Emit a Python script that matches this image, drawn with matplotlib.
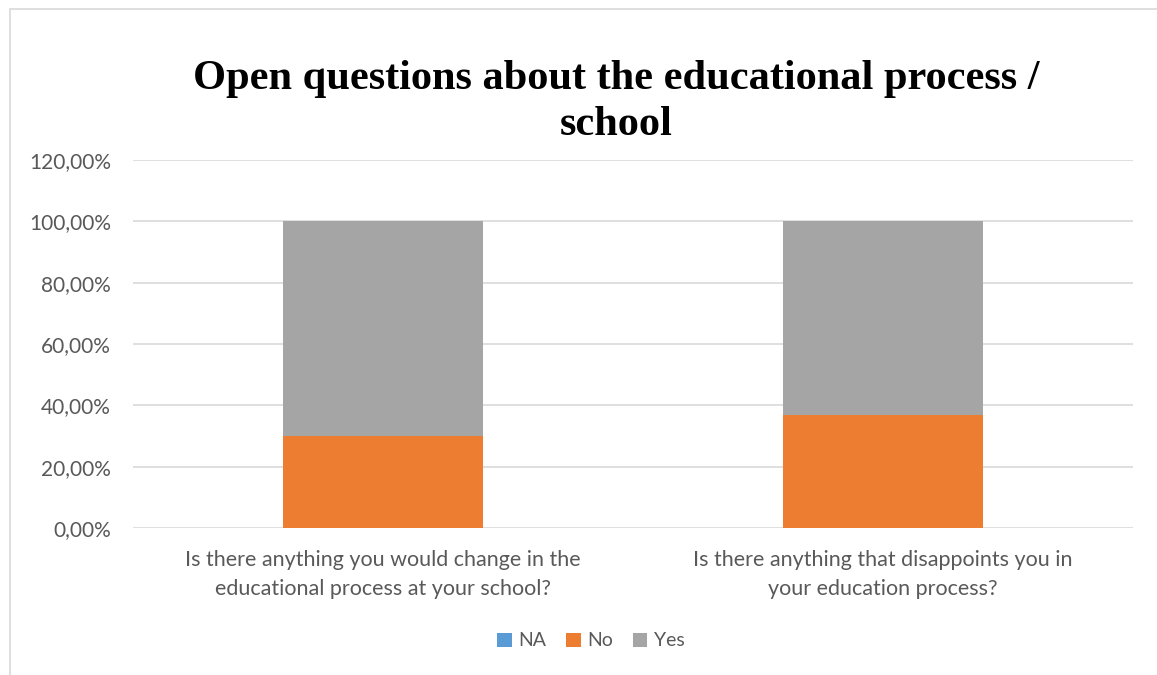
import matplotlib.pyplot as plt
from matplotlib.patches import Rectangle
from matplotlib.ticker import FuncFormatter
import numpy as np

categories = [
    "Is there anything you would change in the\neducational process at your school?",
    "Is there anything that disappoints you in\nyour education process?",
]
series_names = ["NA", "No", "Yes"]
na_values = [0.0, 0.0]
no_values = [30.0, 36.9]
yes_values = [70.0, 63.1]
colors = ["#5B9BD5", "#ED7D31", "#A5A5A5"]
yticks = [0, 20, 40, 60, 80, 100, 120]

W, H = 1157, 675
fig = plt.figure(figsize=(W / 100, H / 100), dpi=100)
fig.patch.set_facecolor("white")

# chart border
fig.add_artist(Rectangle((10 / W, -0.01), (W - 10) / W + 0.02, (H - 9) / H + 0.01,
                         transform=fig.transFigure, fill=False,
                         edgecolor="#D9D9D9", linewidth=1.2))

ax = fig.add_axes([133 / W, 1 - 528 / H, 1000 / W, (528 - 160) / H])

x = np.arange(len(categories))
bottom = np.zeros(len(categories))
for name, vals, c in zip(series_names, [na_values, no_values, yes_values], colors):
    ax.bar(x, vals, width=0.4, bottom=bottom, color=c, label=name, zorder=3)
    bottom += np.array(vals)

ax.set_xlim(-0.5, 1.5)
ax.set_ylim(0, 120)
ax.set_yticks(yticks)
ax.yaxis.set_major_formatter(FuncFormatter(lambda v, p: f"{v:.2f}%".replace(".", ",")))
ax.grid(axis="y", color="#D9D9D9", linewidth=1.2, zorder=0)
ax.set_axisbelow(True)
for s in ax.spines.values():
    s.set_visible(False)
ax.tick_params(axis="both", length=0, labelsize=15, labelcolor="#595959")
ax.tick_params(axis="y", pad=16)
ax.tick_params(axis="x", pad=16)
ax.set_xticks(x)
ax.set_xticklabels(categories, fontfamily="Lato", fontsize=15.5, linespacing=1.55)
for lab in ax.get_yticklabels():
    lab.set_fontfamily("Lato")

fig.text(616 / W, 1 - 102 / H, "Open questions about the educational process /\nschool",
         ha="center", va="center", fontsize=30.5, fontweight="bold",
         fontfamily="Liberation Serif", linespacing=1.3)

leg = fig.legend(loc="center", bbox_to_anchor=(591 / W, 1 - 641 / H), ncol=3,
                 frameon=False, handlelength=0.75, handleheight=0.75,
                 columnspacing=1.0, handletextpad=0.35,
                 prop={"family": "Lato", "size": 14})
for t in leg.get_texts():
    t.set_color("#595959")

fig.savefig("out.png", dpi=100)
